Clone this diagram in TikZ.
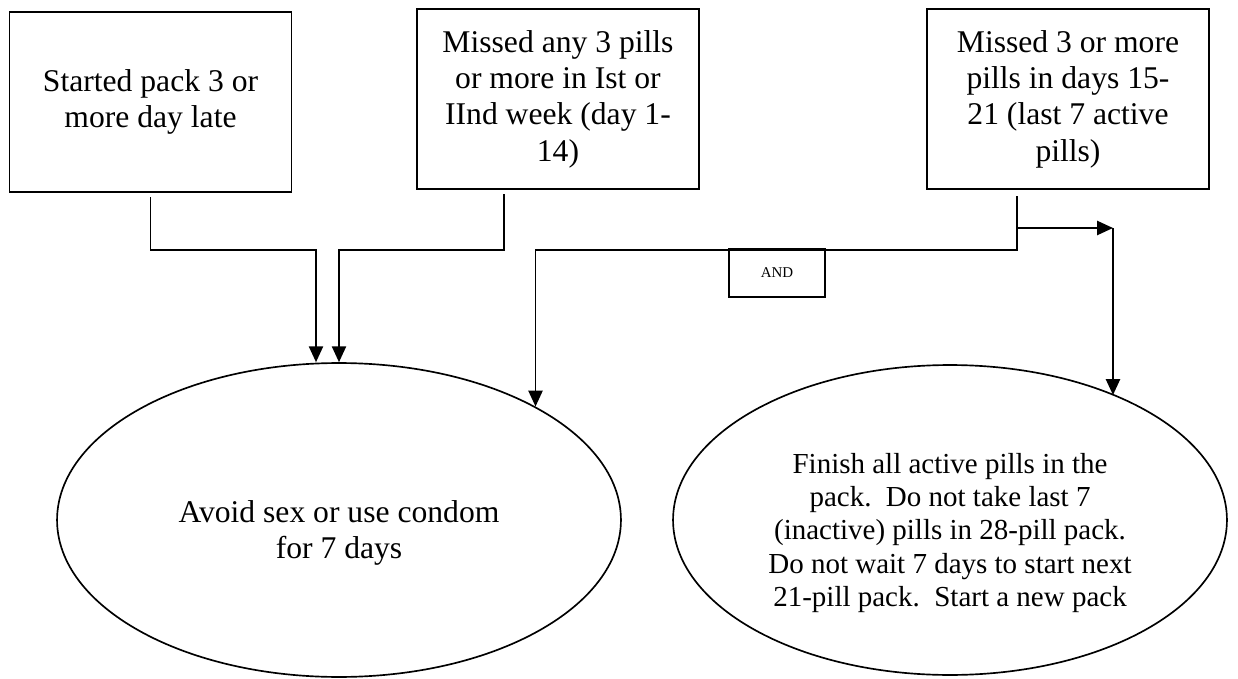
\documentclass[tikz,border=0pt]{standalone}
\usepackage{fontspec}
\setmainfont{Liberation Serif}
\usetikzlibrary{shapes.geometric, arrows.meta}
\tikzstyle{cond} = [rectangle, draw=black, line width=1.1pt,
minimum width=5.64cm, minimum height=3.6cm, align=center,
font=\fontsize{18}{20.7}\selectfont]
\tikzstyle{gate} = [rectangle, draw=black, line width=1.1pt,
minimum width=1.92cm, minimum height=0.96cm,
font=\fontsize{8.5}{10}\selectfont]
\tikzstyle{advice} = [ellipse, draw=black, line width=0.95pt]
\tikzstyle{advicetext} = [align=center]
\tikzstyle{arrow} = [line width=1.1pt,->]

\begin{document}
\begin{tikzpicture}[x=0.02cm, y=-0.02cm, >={Triangle[length=9pt,width=8pt]}]
            \useasboundingbox (0,0) rectangle (1238,679);
            % conditions
            \node [cond] (late) at (150.5,102)
            {Started pack 3 or\\more day late};
            \node [cond] (early) at (558,99)
            {Missed any 3 pills\\or more in Ist or\\IInd week (day 1-\\14)};
            \node [cond] (lastweek) at (1068,99)
            {Missed 3 or more\\pills in days 15-\\21 (last 7 active\\pills)};
            \node [gate] (and) at (777,273)
            {AND};
            % what to do
            \node [advice, minimum width=11.28cm, minimum height=6.28cm] (condom) at (339,520)
            {};
            \node [advicetext, font=\fontsize{18}{20.7}\selectfont] (condomtext) at (339,533)
            {Avoid sex or use condom\\for 7 days};
            \node [advice, minimum width=11.08cm, minimum height=6.2cm] (newpack) at (950,520)
            {};
            \node [advicetext, font=\fontsize{16.5}{19}\selectfont] (newpacktext) at (950,533)
            {Finish all active pills in the\\pack.\ \ Do not take last 7\\(inactive) pills in 28-pill pack.\\Do not wait 7 days to start next\\21-pill pack.\ \ Start a new pack};
            \coordinate (split) at (1017,228);
            \coordinate (turn) at (1113,228);
            \draw [arrow, shorten <=2.5pt] (late.south) -- ++(0,57) -| ([xshift=-0.46cm]condom.north);
            \draw [arrow, shorten <=2.5pt] ([xshift=-1.08cm]early.south) -- ++(0,60) -| (condom.north);
            \draw [arrow, shorten <=3.5pt] ([xshift=-1.02cm]lastweek.south) -- ++(0,60) -| (condom.30);
            \draw [arrow] (split) -- (turn);
            \draw [arrow] (turn) -- (turn |- newpack.37.5);
        \end{tikzpicture}
\end{document}
